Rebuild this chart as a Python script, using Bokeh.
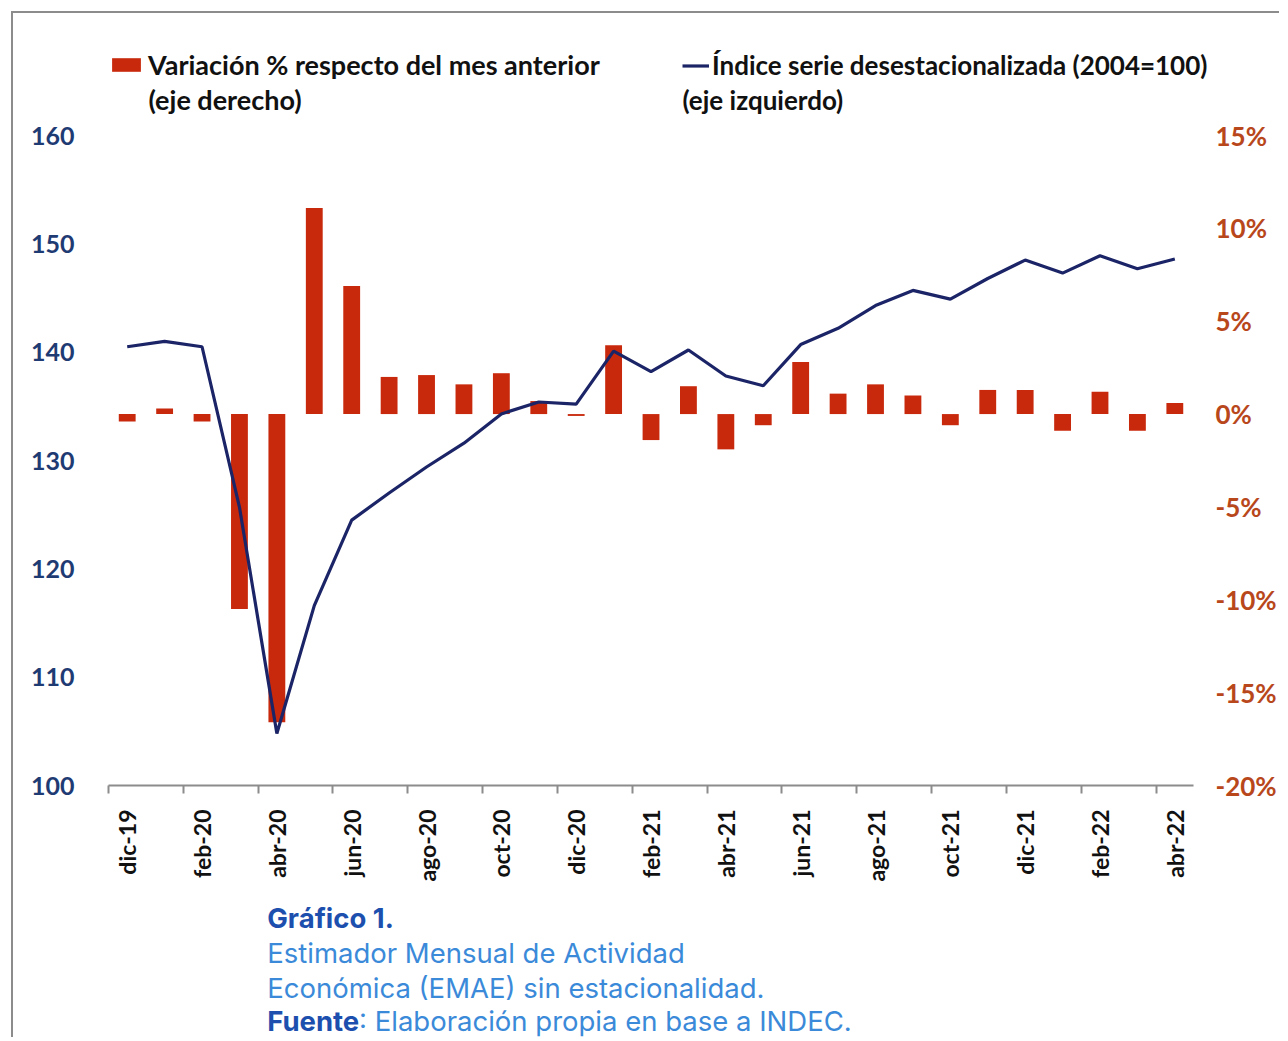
import math
from bokeh.plotting import figure
from bokeh.layouts import column
from bokeh.models import (Range1d, LinearAxis, FixedTicker, Legend, LegendItem, Label,
                          PrintfTickFormatter, ColumnDataSource)
from bokeh.core.properties import value
from bokeh.embed import file_html
from bokeh.resources import INLINE

# ---------------- data ----------------
months = ["dic-19", "ene-20", "feb-20", "mar-20", "abr-20", "may-20", "jun-20", "jul-20",
          "ago-20", "sep-20", "oct-20", "nov-20", "dic-20", "ene-21", "feb-21", "mar-21",
          "abr-21", "may-21", "jun-21", "jul-21", "ago-21", "sep-21", "oct-21", "nov-21",
          "dic-21", "ene-22", "feb-22", "mar-22", "abr-22"]

# Variación % respecto del mes anterior (eje derecho)
variacion = [-0.4, 0.3, -0.4, -10.5, -16.6, 11.1, 6.9, 2.0, 2.1, 1.6, 2.2, 0.7, -0.1,
             3.7, -1.4, 1.5, -1.9, -0.6, 2.8, 1.1, 1.6, 1.0, -0.6, 1.3, 1.3, -0.9,
             1.2, -0.9, 0.6]

# Índice serie desestacionalizada (2004=100) (eje izquierdo)
indice = [140.5, 141.0, 140.5, 125.7, 104.8, 116.6, 124.5, 127.0, 129.4, 131.6, 134.3,
          135.4, 135.2, 140.1, 138.2, 140.2, 137.8, 136.9, 140.7, 142.2, 144.3, 145.7,
          144.9, 146.8, 148.5, 147.3, 148.9, 147.7, 148.6]

left_ticks = [100, 110, 120, 130, 140, 150, 160]
right_ticks = [-20, -15, -10, -5, 0, 5, 10, 15]

legend_bar = "Variación % respecto del mes anterior"
legend_bar_2 = "(eje derecho)"
legend_line = "Índice serie desestacionalizada (2004=100)"
legend_line_2 = "(eje izquierdo)"

caption_title = "Gráfico 1."
caption_lines = ["Estimador Mensual de Actividad", "Económica (EMAE) sin estacionalidad."]
caption_src_bold = "Fuente"
caption_src = ": Elaboración propia en base a  INDEC."

# ---------------- styles / layout ----------------
BAR = "#c8290c"
LINE = "#1b2466"
LEFT_C = "#1f3b73"
RIGHT_C = "#b8471b"
CAP_DARK = "#1d4fae"
CAP_LIGHT = "#3b8ad9"
FONT = "Lato"
CAP_FONT = "Inter"
W = 1266
ORIGIN = 14            # page position of the canvas' top-left corner

# frame: reaches up to the legend; data area (100..160) is its lower 650 px
FRAME_H = 756
DATA_H = 650
DATA_W = 1087          # px covered by the 29 months
EXTRA_R = 18           # extra room on the right of the frame for the legend text
l_lo, l_hi = left_ticks[0], left_ticks[-1]
r_lo, r_hi = right_ticks[0], right_ticks[-1]
l_end = l_lo + (l_hi - l_lo) * FRAME_H / DATA_H
r_end = r_lo + (r_hi - r_lo) * FRAME_H / DATA_H
n = len(months)
x_end = n - 0.5 + EXTRA_R * n / DATA_W

x = list(range(n))
src = ColumnDataSource(dict(x=x, var=variacion, idx=indice))

MAIN_H = 878
p = figure(width=W, height=MAIN_H, output_backend="svg", toolbar_location=None,
           x_range=Range1d(-0.5, x_end), y_range=Range1d(l_lo, l_end),
           min_border_left=95, min_border_right=W - 95 - DATA_W - EXTRA_R,
           min_border_top=16, min_border_bottom=MAIN_H - 16 - FRAME_H)
p.outline_line_color = None
p.xgrid.visible = False
p.ygrid.visible = False
p.background_fill_color = "white"
p.border_fill_color = "white"

p.extra_y_ranges = {"pct": Range1d(r_lo, r_end)}

# bars + line
bars = p.vbar(x="x", top="var", bottom=0, width=0.45, source=src, y_range_name="pct",
              fill_color=BAR, line_color=None)
line = p.line(x="x", y="idx", source=src, line_color=LINE, line_width=3.2)

# x axis: labels every two months, tick marks at the category boundaries (minor ticks)
xa = p.xaxis[0]
xa.bounds = (-0.5, n - 0.5)
xa.ticker = FixedTicker(ticks=list(range(0, n, 2)),
                        minor_ticks=[i - 0.5 for i in range(0, n, 2)])
xa.major_label_overrides = {i: months[i] for i in range(0, n, 2)}
xa.axis_line_color = "#8c8c8c"
xa.axis_line_width = 2
xa.major_tick_line_color = None
xa.major_tick_in = 0
xa.major_tick_out = 8
xa.minor_tick_line_color = "#8c8c8c"
xa.minor_tick_line_width = 2
xa.minor_tick_in = 0
xa.minor_tick_out = 8
xa.major_label_orientation = math.pi / 2
xa.major_label_standoff = 16
xa.major_label_text_font = FONT
xa.major_label_text_font_style = "bold"
xa.major_label_text_font_size = "23px"
xa.major_label_text_color = "#111111"

# left axis
ya = p.yaxis[0]
ya.ticker = FixedTicker(ticks=left_ticks)
ya.axis_line_color = None
ya.major_tick_line_color = None
ya.minor_tick_line_color = None
ya.major_tick_in = 0
ya.major_tick_out = 0
ya.major_label_standoff = 34
ya.major_label_text_font = FONT
ya.major_label_text_font_style = "bold"
ya.major_label_text_font_size = "25px"
ya.major_label_text_color = LEFT_C

# right axis
ra = LinearAxis(y_range_name="pct", ticker=FixedTicker(ticks=right_ticks),
                formatter=PrintfTickFormatter(format="%d%%"))
ra.axis_line_color = None
ra.major_tick_line_color = None
ra.minor_tick_line_color = None
ra.major_tick_in = 0
ra.major_tick_out = 0
ra.major_label_standoff = 22 - EXTRA_R
ra.major_label_text_font = FONT
ra.major_label_text_font_style = "bold"
ra.major_label_text_font_size = "26px"
ra.major_label_text_color = RIGHT_C
p.add_layout(ra, "right")

# legends (inside the upper, empty part of the frame)
leg_common = dict(orientation="horizontal", border_line_color=None,
                  background_fill_alpha=0, padding=0, margin=0,
                  label_text_font=FONT, label_text_font_style="bold",
                  label_text_color="#111111", label_height=32, glyph_height=17)
leg1 = Legend(items=[LegendItem(label=legend_bar, renderers=[bars])], location=(0, 704),
              glyph_width=36, label_standoff=4, label_text_font_size="27px", **leg_common)
leg2 = Legend(items=[LegendItem(label=legend_line, renderers=[line])], location=(574, 704),
              glyph_width=27, label_standoff=3, label_text_font_size="26px", **leg_common)
p.add_layout(leg1)
p.add_layout(leg2)

lab_common = dict(x_units="screen", y_units="screen", text_baseline="middle",
                  text_font=FONT, text_font_style="bold", text_color="#111111")
p.add_layout(Label(x=40, y=686, text=legend_bar_2, text_font_size="27px", **lab_common))
p.add_layout(Label(x=574, y=686, text=legend_line_2, text_font_size="26px", **lab_common))

# caption figure (its frame is aligned with the main frame by the column layout)
cap_top = ORIGIN + MAIN_H
CH = 146
f_left = ORIGIN + 95
f_right = f_left + DATA_W + EXTRA_R
cap = figure(width=W, height=CH, output_backend="svg", toolbar_location=None,
             x_range=Range1d(f_left, f_right), y_range=Range1d(cap_top + CH, cap_top),
             x_axis_location=None, y_axis_location=None,
             min_border=0, outline_line_color=None)
cap.grid.visible = False
cap.background_fill_color = "white"
cap.border_fill_color = "white"

cx = 268
common = dict(text_font=value(CAP_FONT), text_font_size="27.5px", text_baseline="middle",
              text_align="left")
cap.text(x=[cx], y=[918], text=[caption_title], text_color=CAP_DARK,
         text_font_style="bold", **common)
cap.text(x=[cx, cx], y=[953, 988], text=caption_lines, text_color=CAP_LIGHT, **common)
cap.text(x=[cx], y=[1021], text=[caption_src_bold], text_color=CAP_DARK,
         text_font_style="bold", **common)
cap.text(x=[cx + 92], y=[1021], text=[caption_src], text_color=CAP_LIGHT, **common)

layout = column(p, cap, spacing=0)
layout.styles = {"border-top": "2px solid #8c8c8c", "border-left": "2px solid #8c8c8c",
                 "margin-left": "11px", "margin-top": "11px"}

open("out.html", "w").write(file_html(layout, INLINE))
